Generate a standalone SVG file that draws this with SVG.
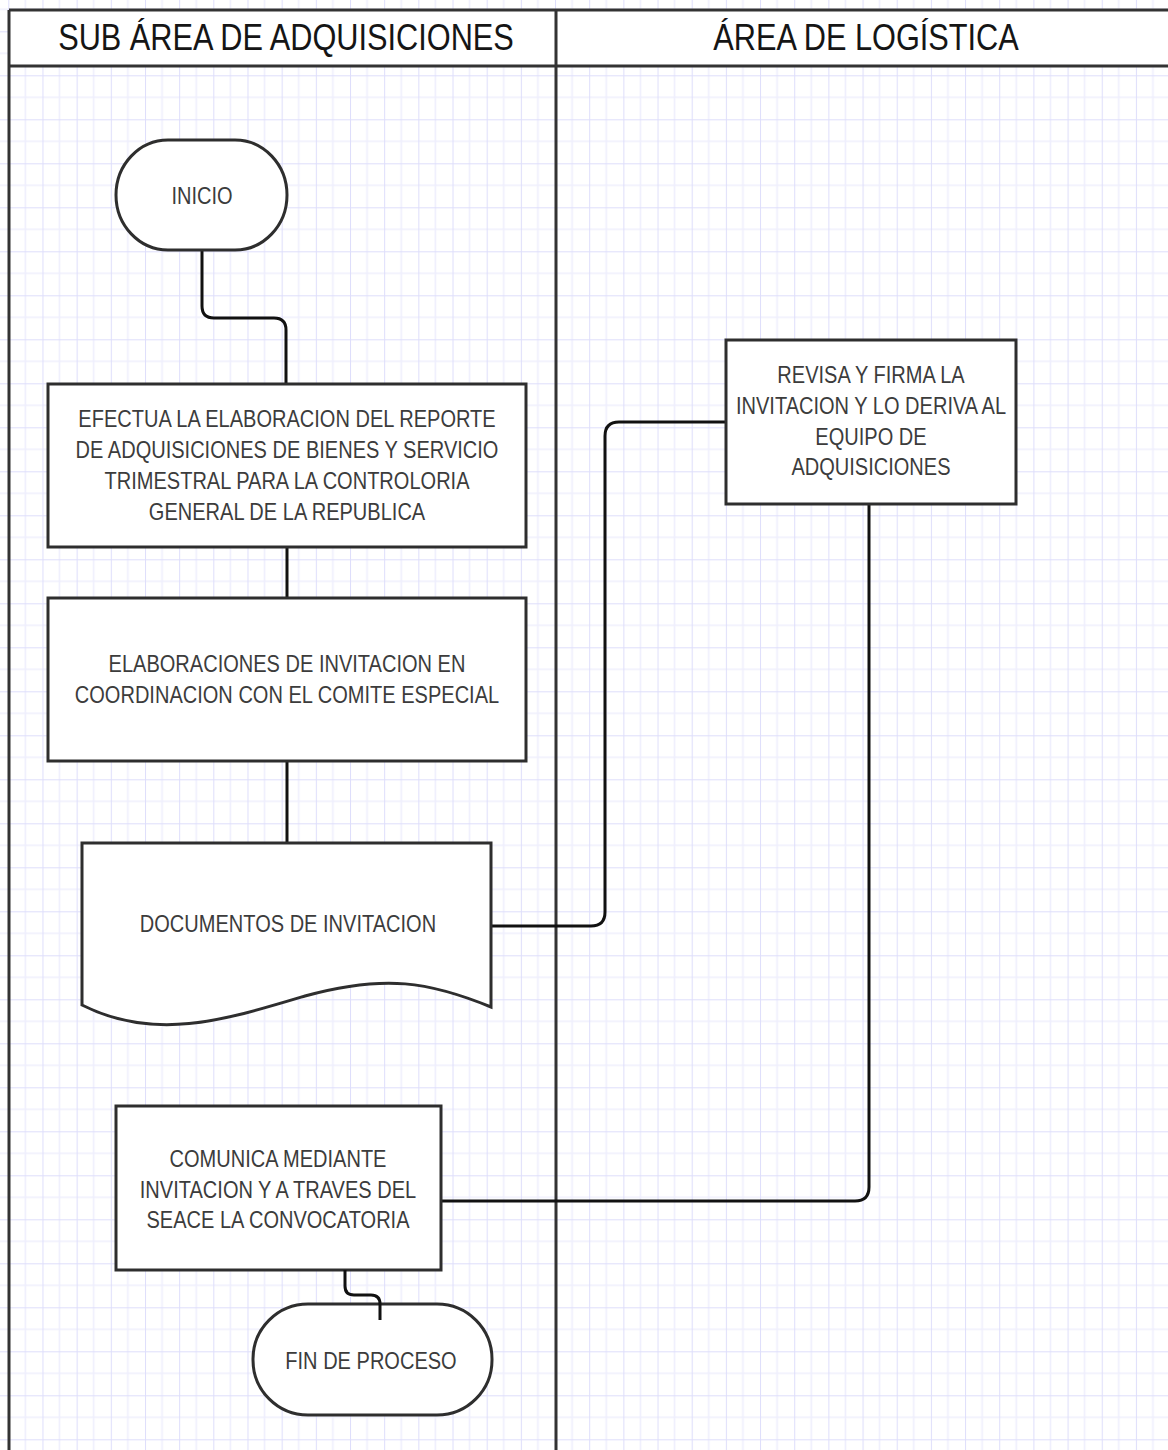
<svg xmlns="http://www.w3.org/2000/svg" width="1168" height="1450" viewBox="0 0 1168 1450">
  <defs>
    <!-- background grid: major and minor lines -->
    <pattern id="grid" patternUnits="userSpaceOnUse" x="8.3" y="31.3" width="34.17" height="44">
      <rect width="34.17" height="44" fill="#ffffff"/>
      <line x1="17.08" y1="0" x2="17.08" y2="44" stroke="#efeffd" stroke-width="1.6"/>
      <line x1="0" y1="22" x2="34.17" y2="22" stroke="#efeffd" stroke-width="1.6"/>
      <line x1="0" y1="0" x2="0" y2="44" stroke="#dedefb" stroke-width="2"/>
      <line x1="0" y1="0" x2="34.17" y2="0" stroke="#dedefb" stroke-width="2"/>
    </pattern>
  </defs>
  <style>
    .shape { fill: #ffffff; stroke: #2e2e2e; stroke-width: 3; }
    .lane { fill: none; stroke: #333333; stroke-width: 3; }
    .conn { fill: none; stroke: #111111; stroke-width: 3; stroke-linejoin: round; }
    .t { font-family: "Liberation Sans", Arial, sans-serif; font-size: 24px; fill: #3c3c3c; text-anchor: middle;
         transform-box: fill-box; transform-origin: center; transform: scaleX(0.835); }
    .h { font-family: "Liberation Sans", Arial, sans-serif; font-size: 37px; fill: #151515; text-anchor: middle;
         transform-box: fill-box; transform-origin: center; transform: scaleX(0.83); }
  </style>

  <rect x="0" y="0" width="1168" height="1450" fill="url(#grid)"/>

  <!-- swimlanes -->
  <g id="lanes">
    <rect x="9" y="10" width="1165" height="56" fill="#ffffff"/>
    <line class="lane" x1="9" y1="10" x2="1168" y2="10"/>
    <line class="lane" x1="9" y1="66" x2="1168" y2="66"/>
    <line class="lane" x1="9" y1="10" x2="9" y2="1450"/>
    <line class="lane" x1="556" y1="10" x2="556" y2="1450"/>
    <text class="h" x="286" y="50">SUB ÁREA DE ADQUISICIONES</text>
    <text class="h" x="866" y="50">ÁREA DE LOGÍSTICA</text>
  </g>

  <!-- connectors -->
  <g id="connectors">
    <path class="conn" d="M202,250 V306 Q202,318 214,318 H274 Q286,318 286,330 V383"/>
    <path class="conn" d="M287,548 V597"/>
    <path class="conn" d="M287,762 V843"/>
    <path class="conn" d="M491,926 H591 Q605,926 605,912 V436 Q605,422 619,422 H726"/>
    <path class="conn" d="M869,505 V1187 Q869,1201 855,1201 H441"/>
  </g>

  <g id="inicio">
    <rect class="shape" x="116" y="140" width="171" height="110" rx="52" ry="55"/>
    <text class="t" x="202" y="204">INICIO</text>
  </g>

  <g id="reporte">
    <rect class="shape" x="48" y="384" width="478" height="163"/>
    <text class="t" x="287" y="427">EFECTUA LA ELABORACION DEL REPORTE</text>
    <text class="t" x="287" y="458">DE ADQUISICIONES DE BIENES Y SERVICIO</text>
    <text class="t" x="287" y="489">TRIMESTRAL PARA LA CONTROLORIA</text>
    <text class="t" x="287" y="520">GENERAL DE LA REPUBLICA</text>
  </g>

  <g id="invitacion">
    <rect class="shape" x="48" y="598" width="478" height="163"/>
    <text class="t" x="287" y="672">ELABORACIONES DE INVITACION EN</text>
    <text class="t" x="287" y="703">COORDINACION CON EL COMITE ESPECIAL</text>
  </g>

  <g id="documentos">
    <path class="shape" d="M82,843 H491 V1007 C430,982 385,974 305,996 C225,1020 155,1042 82,1005 Z"/>
    <text class="t" x="288" y="932">DOCUMENTOS DE INVITACION</text>
  </g>

  <g id="revisa">
    <rect class="shape" x="726" y="340" width="290" height="164"/>
    <text class="t" x="871" y="383">REVISA Y FIRMA LA</text>
    <text class="t" x="871" y="414">INVITACION Y LO DERIVA AL</text>
    <text class="t" x="871" y="445">EQUIPO DE</text>
    <text class="t" x="871" y="475">ADQUISICIONES</text>
  </g>

  <g id="comunica">
    <rect class="shape" x="116" y="1106" width="325" height="164"/>
    <text class="t" x="278" y="1167">COMUNICA MEDIANTE</text>
    <text class="t" x="278" y="1198">INVITACION Y A TRAVES DEL</text>
    <text class="t" x="278" y="1228">SEACE LA CONVOCATORIA</text>
  </g>

  <g id="fin">
    <rect class="shape" x="253" y="1304" width="239" height="111" rx="55" ry="55"/>
    <text class="t" x="371" y="1369">FIN DE PROCESO</text>
  </g>

  <!-- short link into the end terminator, drawn on top -->
  <g id="connector-fin">
    <path class="conn" d="M345,1270 V1286 Q345,1295 354,1295 H371 Q380,1295 380,1304 V1320"/>
  </g>
</svg>
